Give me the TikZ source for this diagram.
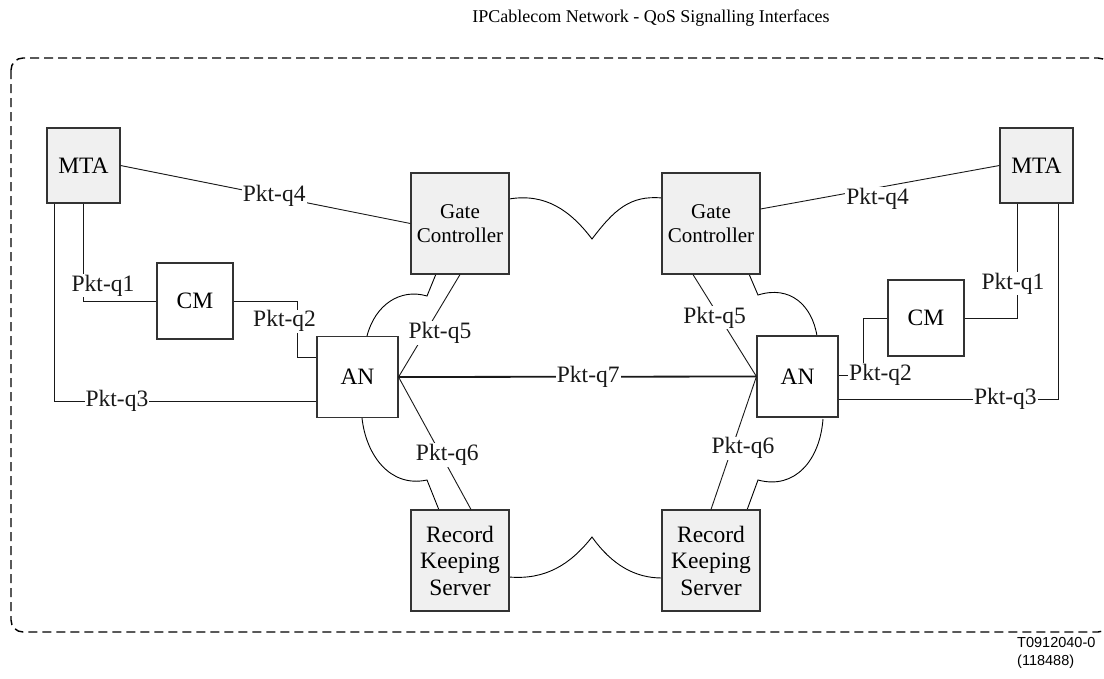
\documentclass[tikz,border=0pt]{standalone}
\usepackage{fontspec}
\setmainfont{Liberation Serif}
\newfontfamily\arialfont{Liberation Sans}
\usetikzlibrary{calc}
\begin{document}
\begin{tikzpicture}[x=1pt,y=-1pt,
  bigfont/.style={font=\fontsize{23.5}{26.5}\selectfont},
  graybox/.style={draw=black!80, line width=1.1pt, fill=gray!12, inner sep=0pt, align=center, bigfont},
  whitebox/.style={draw=black!80, line width=1.1pt, fill=white, inner sep=0pt, align=center, bigfont},
  mtabox/.style={graybox, minimum width=73pt, minimum height=75pt},
  cmbox/.style={whitebox, minimum width=76pt, minimum height=76pt},
  anbox/.style={whitebox, minimum width=81pt, minimum height=81pt},
  gcbox/.style={graybox, minimum width=98pt, minimum height=101pt, font=\fontsize{21}{24}\selectfont},
  rksbox/.style={graybox, minimum width=98pt, minimum height=101pt},
  lbl/.style={fill=white, inner sep=1pt, bigfont},
  conn/.style={line width=0.9pt, black!90},
  cloud/.style={line width=0.9pt, black},
  frame/.style={line width=1.4pt, dash pattern=on 9pt off 5pt, rounded corners=12pt}
]
\useasboundingbox (0,0) rectangle (1104,678);
\clip (0,0) rectangle (1104,678);

% title
\node[font=\fontsize{18}{20}\selectfont] (title) at (651,18) {IPCablecom Network - QoS Signalling Interfaces};

% frame
\draw[frame] (11,58) rectangle (1110,632);

% clouds
\draw[cloud] (509,199) .. controls (545,193) and (570,210) .. (592,239)
                       .. controls (614,210) and (630,195) .. (662,198);
\draw[cloud] (509,577) .. controls (545,580) and (570,565) .. (592,537)
                       .. controls (612,565) and (635,578) .. (662,578);
\draw[cloud] (436,274) -- (427,296) .. controls (400,288) and (375,305) .. (367,336);
\draw[cloud] (362,418) .. controls (366,455) and (390,488) .. (427,480) -- (439,510);
\draw[cloud] (749,274) -- (758,295) .. controls (790,285) and (812,305) .. (817,336);
\draw[cloud] (823,419) .. controls (820,460) and (795,490) .. (758,480) -- (747,510);

% nodes
\node[mtabox] (lMTA) at (83.5,165.5) {MTA};
\node[cmbox] (lCM) at (195,301) {CM};
\node[anbox] (lAN) at (357.5,377) {AN};
\node[gcbox] (lGC) at (460,223.5) {Gate\\Controller};
\node[rksbox] (lRKS) at (460,560.5) {Record\\Keeping\\Server};
\node[gcbox] (rGC) at (711,223.5) {Gate\\Controller};
\node[rksbox] (rRKS) at (711,560.5) {Record\\Keeping\\Server};
\node[anbox] (rAN) at (797.5,376.5) {AN};
\node[cmbox] (rCM) at (926,318) {CM};
\node[mtabox] (rMTA) at (1036.5,165.5) {MTA};

% left connectors
\draw[conn] (lMTA.east) -- node[lbl,pos=0.53] {Pkt-q4} (lGC.west);
\draw[conn] (lMTA.south) |- node[lbl,pos=0.42,xshift=19.5pt] {Pkt-q1} (lCM.west);
\draw[conn] (lCM.east) -- ++(64,0) |- node[lbl,pos=0.18,xshift=-13pt] {Pkt-q2} ($(lAN.west)+(0,-20)$);
\draw[conn] ($(lMTA.south)+(-29.5,0)$) |- node[lbl,pos=0.62] {Pkt-q3} ($(lAN.west)+(0,24)$);
\draw[conn] (lGC.south) -- node[lbl,pos=0.57,xshift=15pt] {Pkt-q5} (lAN.east);
\draw[conn] (lAN.east) -- node[lbl,pos=0.59,xshift=6pt] {Pkt-q6} ($(lRKS.north)+(11,0)$);
\draw[conn, line width=1.8pt] (lAN.east) -- node[lbl,pos=0.53] {Pkt-q7} (rAN.west);

% right connectors
\draw[conn] ($(rGC.east)+(0,-14.5)$) -- node[lbl,pos=0.49,yshift=-11pt] {Pkt-q4} (rMTA.west);
\draw[conn] ($(rMTA.south)+(-19.5,0)$) |- node[lbl,pos=0.35,xshift=-4pt] {Pkt-q1} (rCM.east);
\draw[conn] ($(rAN.east)+(0,-1.5)$) -- node[lbl,pos=1,xshift=17pt] {Pkt-q2} ++(25,0) |- (rCM.west);
\draw[conn] ($(rAN.east)+(0,22.5)$) -| node[lbl,pos=0.38] {Pkt-q3} ($(rMTA.south)+(21.5,0)$);
\draw[conn] ($(rGC.south)+(-18,0)$) -- node[lbl,pos=0.42,xshift=-5pt] {Pkt-q5} (rAN.west);
\draw[conn] (rAN.west) -- node[lbl,pos=0.54,xshift=11pt] {Pkt-q6} (rRKS.north);

% reference code
\node[font=\arialfont\fontsize{14.5}{18}\selectfont, anchor=base west, inner sep=0pt] (code1) at (1017,647) {T0912040-0};
\node[font=\arialfont\fontsize{14.5}{18}\selectfont, anchor=base west, inner sep=0pt] (code2) at (1017,665) {(118488)};
\end{tikzpicture}
\end{document}
